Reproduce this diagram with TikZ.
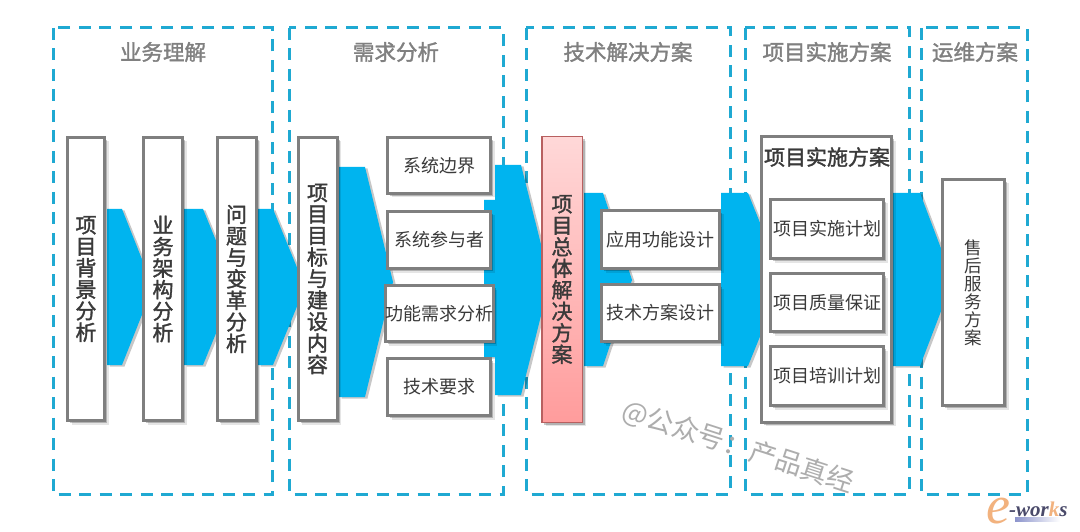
\documentclass[tikz,border=0pt]{standalone}
\usepackage{fontspec}
\setmainfont{Noto Sans CJK SC}
\newfontfamily\heavyfont[FakeBold=1.6]{Noto Sans CJK SC}
\newfontfamily\logofont{Liberation Serif}
\usetikzlibrary{shadows}
\definecolor{dashblue}{HTML}{1FA9D2}
\definecolor{flowblue}{HTML}{00B4EF}
\definecolor{edgegray}{HTML}{7F7F7F}
\definecolor{titlegray}{HTML}{808080}
\definecolor{inktext}{HTML}{3A3A3A}
\definecolor{redtop}{HTML}{FFD8D8}
\definecolor{redbottom}{HTML}{FF9C9C}
\definecolor{rededge}{HTML}{B86060}
\definecolor{logoorange}{HTML}{F2B27E}
\definecolor{logoink}{HTML}{4A4A6A}
\definecolor{logobar}{HTML}{8C94CC}
\tikzset{
  x=1pt,y=-1pt,
  softshadow/.style={
    general shadow={shadow xshift=4pt,shadow yshift=-4pt,opacity=.10,fill=black},
    general shadow={shadow xshift=2.5pt,shadow yshift=-2.5pt,opacity=.22,fill=black}},
  zone/.style={draw=dashblue,line width=3pt,dash pattern=on 12pt off 8.5pt},
  zonetitle/.style={font=\fontsize{21.5}{21}\heavyfont,text=titlegray,inner sep=0pt},
  flow/.style={fill=flowblue,draw=none,
    general shadow={shadow xshift=2.5pt,shadow yshift=-1.5pt,opacity=.22,fill=black}},
  panel/.style={draw=edgegray,line width=3pt,fill=white,softshadow,inner sep=0pt,align=center,text=inktext},
  tallpanel/.style={panel,font=\fontsize{21}{21.5}\heavyfont},
  smallpanel/.style={panel,font=\fontsize{18}{21}\selectfont},
  redpanel/.style={tallpanel,draw=rededge,line width=1.5pt,top color=redtop,bottom color=redbottom},
}
\begin{document}
\begin{tikzpicture}
\useasboundingbox (0,0) rectangle (1080,532);
\fill[white] (0,0) rectangle (1080,532);
% zones
\draw[zone] (53,28) rectangle (272,494);
\draw[zone] (289,28) rectangle (503,494);
\draw[zone] (526,28) rectangle (730,494);
\draw[zone] (745,28) rectangle (909,494);
\draw[zone] (921,28) rectangle (1027,494);
\node[zonetitle] (t1) at (163,52) {业务理解};
\node[zonetitle] (t2) at (396,52) {需求分析};
\node[zonetitle] (t3) at (628,52) {技术解决方案};
\node[zonetitle] (t4) at (827,52) {项目实施方案};
\node[zonetitle] (t5) at (975,52) {运维方案};
% block arrows
\path[flow] (107,209) -- (122,209) -- (153,287) -- (122,365) -- (107,365) -- cycle;
\path[flow] (184,209) -- (203,209) -- (235,287) -- (203,365) -- (184,365) -- cycle;
\path[flow] (258,209) -- (273,209) -- (305,287) -- (273,365) -- (258,365) -- cycle;
\path[flow] (339,167) -- (365,167) -- (393,282) -- (365,397) -- (339,397) -- cycle;
\path[flow] (495,165) -- (521,165) -- (550,280) -- (521,395) -- (495,395) -- (495,357) -- (484,357) -- (484,200) -- (495,200) -- cycle;
\path[flow] (584,193) -- (603,193) -- (632,280) -- (603,366) -- (584,366) -- cycle;
\path[flow] (721,193) -- (748,193) -- (783,280) -- (748,366) -- (721,366) -- cycle;
\path[flow] (893,193) -- (920,193) -- (953,280) -- (920,366) -- (893,366) -- cycle;
% business panels
\node[tallpanel,minimum width=37pt,minimum height=283pt] (r1) at (86,279) {项\\目\\背\\景\\分\\析};
\node[tallpanel,minimum width=39pt,minimum height=283pt] (r2) at (163,279) {业\\务\\架\\构\\分\\析};
\node[tallpanel,minimum width=39pt,minimum height=283pt] (r3) at (236.5,279) {问\\题\\与\\变\\革\\分\\析};
\node[tallpanel,minimum width=39pt,minimum height=283pt] (r4) at (317.5,279) {项\\目\\目\\标\\与\\建\\设\\内\\容};
% requirement panels
\node[smallpanel,minimum width=103pt,minimum height=56pt] (q1) at (439,165.5) {系统边界};
\node[smallpanel,minimum width=103pt,minimum height=57pt] (q2) at (439,240) {系统参与者};
\node[smallpanel,minimum width=103pt,minimum height=56pt] (q3) at (439,313.5) {功能需求分析};
\node[smallpanel,minimum width=103pt,minimum height=57pt] (q4) at (439,387) {技术要求};
% solution panels
\node[redpanel,minimum width=40.5pt,minimum height=285.5pt] (s0) at (562,279.5) {项\\目\\总\\体\\解\\决\\方\\案};
\node[smallpanel,minimum width=118pt,minimum height=58pt] (s1) at (660.5,239.5) {应用功能设计};
\node[smallpanel,minimum width=118pt,minimum height=57pt] (s2) at (660.5,313) {技术方案设计};
% implementation panels
\node[panel,minimum width=130pt,minimum height=285pt] (p0) at (826.5,279.5) {};
\node[font=\fontsize{21}{21}\heavyfont,text=inktext,inner sep=0pt] (p1) at (827,157) {项目实施方案};
\node[smallpanel,minimum width=113pt,minimum height=59pt] (p2) at (827,229) {项目实施计划};
\node[smallpanel,minimum width=113pt,minimum height=58pt] (p3) at (827,302.5) {项目质量保证};
\node[smallpanel,minimum width=113pt,minimum height=59pt] (p4) at (827,376) {项目培训计划};
% operations panel
\node[panel,font=\fontsize{17.5}{18}\selectfont,minimum width=62pt,minimum height=226pt] (o1) at (973.5,292.5) {售\\后\\服\\务\\方\\案};
% watermark
\node[font=\fontsize{27}{27}\selectfont,text=black!32,rotate=-18,inner sep=0pt] (w) at (738,447) {@公众号：产品真经};
% logo
\node[inner sep=0pt,text=logoorange,font=\logofont\fontsize{54}{54}\selectfont\itshape] (le) at (998,511) {e};
\node[inner sep=0pt,anchor=west,text=logoink,font=\logofont\fontsize{21}{21}\selectfont\bfseries\itshape] (lw) at (1009,509) {-wor\textcolor{logoorange}{k}s};
\shade[left color=logobar,right color=white] (1015,517) rectangle (1060,521);
\end{tikzpicture}
\end{document}
